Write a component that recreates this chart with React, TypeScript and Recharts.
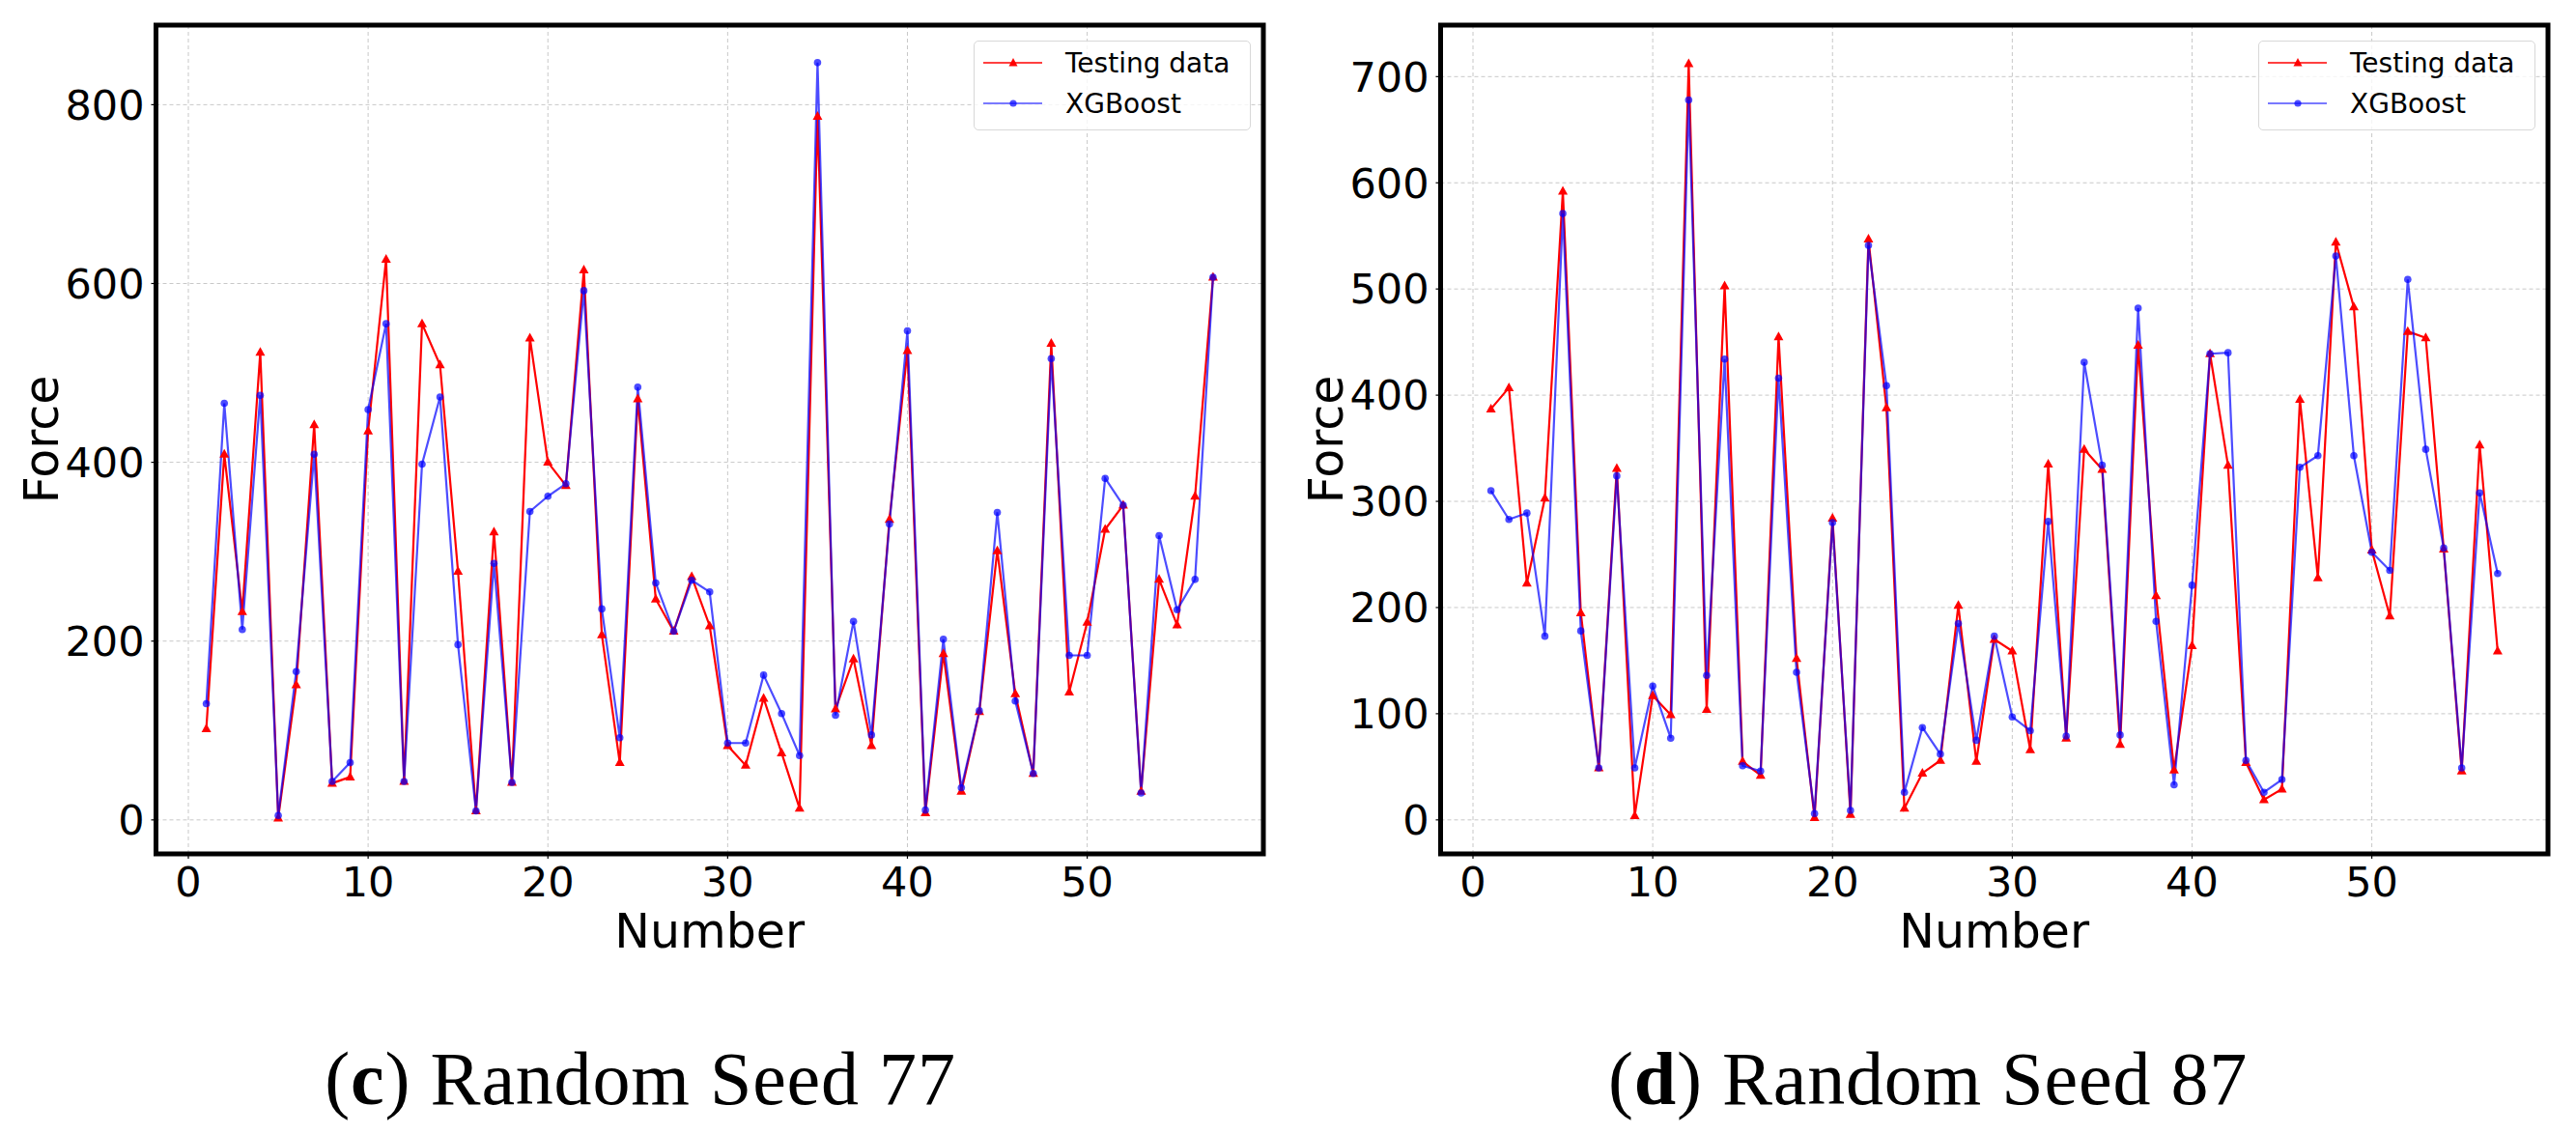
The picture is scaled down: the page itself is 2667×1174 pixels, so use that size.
import React from 'react';
import { CartesianGrid, Line, LineChart, ReferenceArea, XAxis, YAxis } from 'recharts';

const NUMBERS = Array.from({ length: 57 }, (_, i) => i + 1);
const X_TICKS = [0, 10, 20, 30, 40, 50];

const SEED77_TESTING = [
  102, 409, 233, 523, 2, 151, 442, 41, 48, 435,
  627, 43, 555, 509, 278, 10, 322, 42, 539, 400,
  374, 615, 207, 64, 471, 247, 211, 272, 217, 83,
  61, 136, 75, 13, 787, 124, 180, 83, 336, 525,
  8, 186, 32, 121, 301, 141, 52, 533, 143, 221,
  325, 352, 32, 269, 218, 362, 607,
];
const SEED77_XGBOOST = [
  130, 466, 213, 475, 5, 166, 409, 43, 64, 459,
  555, 43, 398, 473, 196, 10, 287, 42, 345, 362,
  376, 592, 236, 92, 484, 265, 211, 268, 255, 86,
  86, 162, 119, 72, 847, 117, 222, 95, 331, 547,
  11, 202, 36, 122, 344, 133, 52, 516, 184, 184,
  382, 352, 30, 318, 235, 269, 607,
];
const SEED77_Y_TICKS = [0, 200, 400, 600, 800];

const SEED87_TESTING = [
  387, 407, 223, 303, 592, 195, 49, 331, 4, 117,
  99, 712, 104, 503, 55, 42, 455, 152, 2, 284,
  5, 547, 388, 11, 44, 56, 202, 55, 170, 159,
  66, 335, 77, 349, 330, 71, 447, 211, 47, 164,
  439, 334, 54, 19, 29, 396, 228, 544, 483, 254,
  192, 460, 454, 255, 46, 353, 159,
];
const SEED87_XGBOOST = [
  310, 283, 289, 173, 571, 178, 49, 324, 49, 126,
  77, 678, 136, 434, 51, 46, 416, 139, 6, 280,
  9, 541, 409, 26, 87, 62, 185, 75, 173, 97,
  84, 281, 79, 431, 334, 80, 482, 187, 33, 221,
  439, 440, 56, 26, 38, 332, 343, 531, 343, 252,
  235, 509, 349, 256, 49, 308, 232,
];
const SEED87_Y_TICKS = [0, 100, 200, 300, 400, 500, 600, 700];

const SANS = "'DejaVu Sans', sans-serif";
const SERIF = "'Liberation Serif', 'Times New Roman', serif";
const RED = '#ff0000';
const BLUE = '#0000ff';
const X_DOMAIN: [number, number] = [-1.8, 59.8];

const renderTriangle = (props: any) => {
  const { cx, cy, index } = props;
  if (cx == null || cy == null) return <g key={`t${index}`} />;
  return (
    <polygon
      key={`t${index}`}
      points={`${cx},${cy - 5.5} ${cx - 5},${cy + 3.5} ${cx + 5},${cy + 3.5}`}
      fill={RED}
    />
  );
};

const renderCircle = (props: any) => {
  const { cx, cy, index } = props;
  if (cx == null || cy == null) return <g key={`c${index}`} />;
  return <circle key={`c${index}`} cx={cx} cy={cy} r={3.8} fill={BLUE} fillOpacity={0.7} />;
};

const LegendBox = ({ left }: { left: number }) => (
  <div
    style={{
      position: 'absolute',
      left,
      top: 42,
      width: 287,
      height: 93,
      border: '1.5px solid #d8d8d8',
      borderRadius: 5,
      boxSizing: 'border-box',
      background: 'rgba(255,255,255,0.8)',
    }}
  >
    <svg width={284} height={90} style={{ position: 'absolute', left: 0, top: 0 }}>
      <line x1={9} x2={70} y1={22} y2={22} stroke={RED} strokeWidth={1.4} />
      <polygon points="40,17 35.5,25.5 44.5,25.5" fill={RED} />
      <text x={94} y={22} dominantBaseline="central" fontFamily={SANS} fontSize={28} fill="#000">
        Testing data
      </text>
      <line x1={9} x2={70} y1={64} y2={64} stroke={BLUE} strokeOpacity={0.7} strokeWidth={1.4} />
      <circle cx={40} cy={64} r={3.6} fill={BLUE} fillOpacity={0.7} />
      <text x={94} y={64} dominantBaseline="central" fontFamily={SANS} fontSize={28} fill="#000">
        XGBoost
      </text>
    </svg>
  </div>
);

interface PanelProps {
  left: number;
  width: number;
  yAxisWidth: number;
  marginRight: number;
  labelOffset: number;
  testing: number[];
  xgboost: number[];
  yDomain: [number, number];
  yTicks: number[];
}

const ForcePanel = ({
  left,
  width,
  yAxisWidth,
  marginRight,
  labelOffset,
  testing,
  xgboost,
  yDomain,
  yTicks,
}: PanelProps) => {
  const data = NUMBERS.map((n, i) => ({ n, testing: testing[i], xgboost: xgboost[i] }));
  return (
    <div style={{ position: 'absolute', left, top: 0, width, height: 1000 }}>
      <LineChart width={width} height={1000} data={data} margin={{ top: 26, right: marginRight, bottom: 0, left: 0 }}>
        <CartesianGrid stroke="#c8c8c8" strokeDasharray="4 3" strokeWidth={1} />
        <XAxis
          type="number"
          dataKey="n"
          domain={X_DOMAIN}
          allowDataOverflow
          ticks={X_TICKS}
          interval={0}
          height={116}
          axisLine={false}
          tickLine={{ stroke: '#000', strokeWidth: 1.2 }}
          tickSize={5}
          tickMargin={8}
          tick={{ fontSize: 43, fill: '#000', fontFamily: SANS }}
          label={{ value: 'Number', position: 'insideBottom', offset: 19, fontSize: 49, fill: '#000', fontFamily: SANS }}
        />
        <YAxis
          type="number"
          domain={yDomain}
          allowDataOverflow
          ticks={yTicks}
          interval={0}
          width={yAxisWidth}
          axisLine={false}
          tickLine={{ stroke: '#000', strokeWidth: 1.2 }}
          tickSize={5}
          tickMargin={7}
          tick={{ fontSize: 43, fill: '#000', fontFamily: SANS }}
          label={{
            value: 'Force',
            angle: -90,
            position: 'insideLeft',
            offset: labelOffset,
            fontSize: 49,
            fill: '#000',
            fontFamily: SANS,
            style: { textAnchor: 'middle' },
          }}
        />
        <Line
          type="linear"
          dataKey="testing"
          name="Testing data"
          stroke={RED}
          strokeWidth={2.2}
          dot={renderTriangle}
          activeDot={false}
          isAnimationActive={false}
        />
        <Line
          type="linear"
          dataKey="xgboost"
          name="XGBoost"
          stroke={BLUE}
          strokeOpacity={0.7}
          strokeWidth={2.2}
          dot={renderCircle}
          activeDot={false}
          isAnimationActive={false}
        />
        <ReferenceArea
          x1={X_DOMAIN[0]}
          x2={X_DOMAIN[1]}
          y1={yDomain[0]}
          y2={yDomain[1]}
          fill="none"
          fillOpacity={0}
          stroke="#000"
          strokeWidth={5}
          ifOverflow="visible"
        />
      </LineChart>
    </div>
  );
};

export default function App() {
  return (
    <div style={{ position: 'absolute', left: 0, top: 0, width: 2667, height: 1174, background: '#fff', overflow: 'hidden' }}>
      <ForcePanel
        left={0}
        width={1333}
        yAxisWidth={161.5}
        marginRight={25}
        labelOffset={43}
        testing={SEED77_TESTING}
        xgboost={SEED77_XGBOOST}
        yDomain={[-38, 889]}
        yTicks={SEED77_Y_TICKS}
      />
      <ForcePanel
        left={1333}
        width={1334}
        yAxisWidth={158.5}
        marginRight={29}
        labelOffset={40}
        testing={SEED87_TESTING}
        xgboost={SEED87_XGBOOST}
        yDomain={[-32, 748.5]}
        yTicks={SEED87_Y_TICKS}
      />
      <LegendBox left={1008} />
      <LegendBox left={2338} />
      <svg width={2667} height={174} style={{ position: 'absolute', left: 0, top: 1000 }}>
        <text x={663} y={143} textAnchor="middle" fontFamily={SERIF} fontSize={78} letterSpacing={0.8} fill="#000">
          (<tspan fontWeight="bold">c</tspan>) Random Seed 77
        </text>
        <text x={1996} y={143} textAnchor="middle" fontFamily={SERIF} fontSize={78} letterSpacing={0.8} fill="#000">
          (<tspan fontWeight="bold">d</tspan>) Random Seed 87
        </text>
      </svg>
    </div>
  );
}
